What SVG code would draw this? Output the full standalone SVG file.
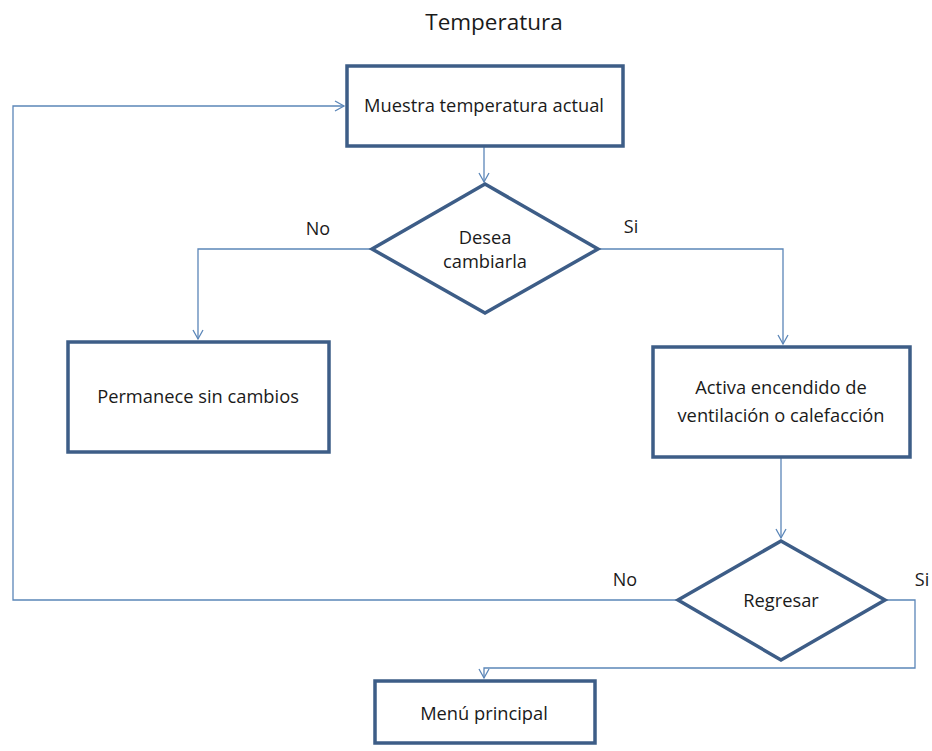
<svg xmlns="http://www.w3.org/2000/svg" width="932" height="751" viewBox="0 0 932 751">
<style>
.node{fill:#ffffff;stroke:#3d5d87;stroke-width:3.5}
.t{font-family:"Open Sans","Liberation Sans",sans-serif;font-size:18.3px;fill:#1a1a1a;text-anchor:middle}
.lbl{font-family:"Open Sans","Liberation Sans",sans-serif;font-size:18px;fill:#1a1a1a;text-anchor:middle}
.c{fill:none;stroke:#5b86b8;stroke-width:1.3}
</style>
<defs>
<marker id="arr" markerWidth="12" markerHeight="12" refX="10" refY="6" orient="auto" markerUnits="userSpaceOnUse">
<path d="M1,1 L10,6 L1,11" fill="none" stroke="#5b86b8" stroke-width="1.3"/>
</marker>
</defs>
<rect width="932" height="751" fill="#ffffff"/>
<text x="494" y="30" style="font-family:'Open Sans','Liberation Sans',sans-serif;font-size:22.5px;fill:#1a1a1a;text-anchor:middle">Temperatura</text>
<g id="connectors">
<path class="c" d="M484,147 V182" marker-end="url(#arr)"/>
<path class="c" d="M372,249 H198 V339" marker-end="url(#arr)"/>
<path class="c" d="M598,249 H783 V344" marker-end="url(#arr)"/>
<path class="c" d="M781,458 V538" marker-end="url(#arr)"/>
<path class="c" d="M677,600 H13 V106 H344" marker-end="url(#arr)"/>
<path class="c" d="M886,600 H915 V668 H484 V678" marker-end="url(#arr)"/>
<text class="lbl" x="318" y="235">No</text>
<text class="lbl" x="631" y="233">Si</text>
<text class="lbl" x="625" y="586">No</text>
<text class="lbl" x="922" y="586">Si</text>
</g>
<g id="n1"><rect class="node" x="347" y="66" width="276" height="80"/><text class="t" x="484" y="112">Muestra temperatura actual</text></g>
<g id="d1"><polygon class="node" points="485,184 598,249 485,313 372,249"/><text class="t" x="485" y="244">Desea</text><text class="t" x="485" y="268">cambiarla</text></g>
<g id="n2"><rect class="node" x="68" y="342" width="261" height="110"/><text class="t" x="198" y="403">Permanece sin cambios</text></g>
<g id="n3"><rect class="node" x="653" y="347" width="257" height="110"/><text class="t" x="781" y="394">Activa encendido de</text><text class="t" x="781" y="422">ventilación o calefacción</text></g>
<g id="d2"><polygon class="node" points="781,541 885,600 781,660 678,600"/><text class="t" x="781" y="607">Regresar</text></g>
<g id="n4"><rect class="node" x="375" y="681" width="220" height="62"/><text class="t" x="484" y="720">Menú principal</text></g>
</svg>
